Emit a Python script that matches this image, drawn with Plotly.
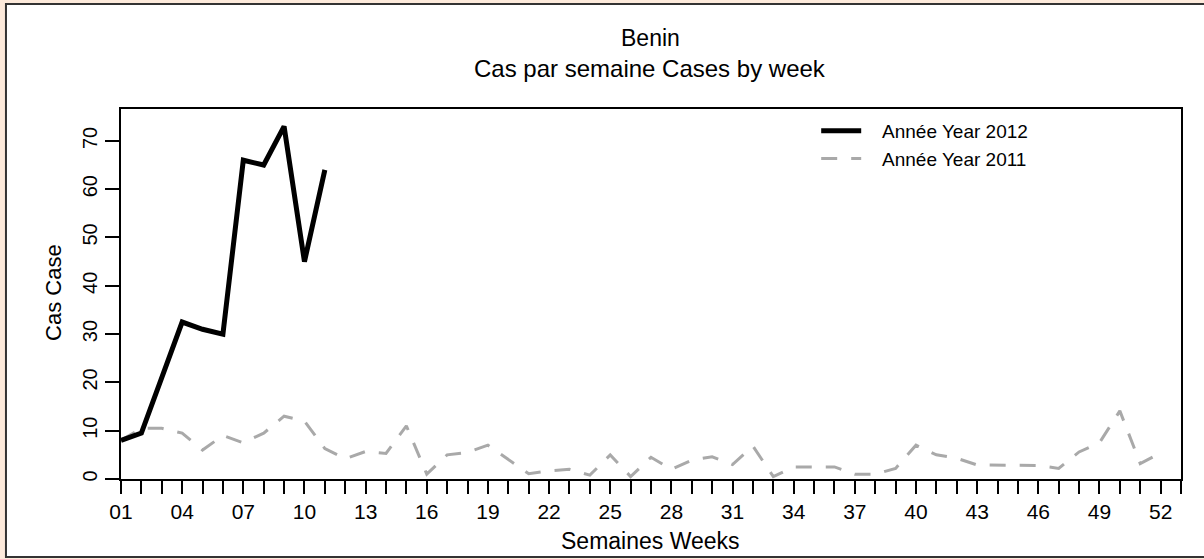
import plotly.graph_objects as go

# Data
weeks_2012 = list(range(1, 12))
cases_2012 = [8, 9.5, 21, 32.5, 31, 30, 66, 65, 73, 45, 64]

weeks_2011 = list(range(1, 53))
cases_2011 = [8, 10.5, 10.5, 9.5, 6, 9, 7.5, 9.5, 13, 12,
              6.3, 4.2, 5.7, 5.3, 11, 1, 5, 5.5, 7, 4,
              1.1, 1.7, 2, 0.8, 5, 0.5, 4.5, 2, 3.9, 4.6,
              3, 6.8, 0.5, 2.5, 2.5, 2.5, 1, 1, 2.2, 7,
              5, 4.3, 2.9, 2.9, 2.9, 2.8, 2.2, 5.6, 7.5, 14.1,
              3.2, 5.4]

x_tickvals = list(range(1, 54))
x_ticktext = [f"{w:02d}" if (w - 1) % 3 == 0 and w <= 52 else "" for w in x_tickvals]
y_tickvals = [0, 10, 20, 30, 40, 50, 60, 70]

title_main = "Benin"
title_sub = "Cas par semaine Cases by week"
x_title = "Semaines Weeks"
y_title = "Cas Case"
name_2012 = "\u00a0\u00a0\u00a0Année Year 2012"
name_2011 = "\u00a0\u00a0\u00a0Année Year 2011"

FONT = "Liberation Sans, Arial, sans-serif"

# Plot area geometry (pixels)
W, H = 1204, 559
L, R_EDGE, T, B_EDGE = 121, 1180.7, 109, 479
pw = R_EDGE - L
ph = B_EDGE - T

def px2x(px):
    return (px - L) / pw

def py2y(py):
    return (B_EDGE - py) / ph

fig = go.Figure()
fig.add_trace(go.Scatter(
    x=weeks_2011, y=cases_2011, mode="lines", name=name_2011,
    line=dict(color="#a9a9a9", width=3, dash="16px,14px"),
))
fig.add_trace(go.Scatter(
    x=weeks_2012, y=cases_2012, mode="lines", name=name_2012,
    line=dict(color="#000000", width=5),
))

fig.update_layout(
    width=W, height=H,
    margin=dict(l=L, r=W - R_EDGE, t=T, b=H - B_EDGE, pad=0),
    paper_bgcolor="#fdeadb",
    plot_bgcolor="rgba(0,0,0,0)",
    font=dict(family=FONT, size=16, color="#000000"),
    showlegend=True,
    legend=dict(
        x=px2x(816), y=py2y(112), xanchor="left", yanchor="top",
        bgcolor="rgba(0,0,0,0)", traceorder="reversed",
        font=dict(family=FONT, size=19, color="#000000"),
        itemwidth=40, tracegroupgap=0,
    ),
    shapes=[
        dict(type="rect", xref="paper", yref="paper",
             x0=px2x(6), x1=px2x(1215), y0=py2y(557), y1=py2y(4),
             fillcolor="#ffffff", line=dict(color="#333333", width=2),
             layer="below"),
    ],
    annotations=[
        dict(text=title_main, xref="paper", yref="paper",
             x=px2x(650), y=py2y(38), showarrow=False,
             xanchor="center", yanchor="middle",
             font=dict(family=FONT, size=23)),
        dict(text=title_sub, xref="paper", yref="paper",
             x=px2x(650), y=py2y(68), showarrow=False,
             xanchor="center", yanchor="middle",
             font=dict(family=FONT, size=24)),
        dict(text=x_title, xref="paper", yref="paper",
             x=px2x(650), y=py2y(541), showarrow=False,
             xanchor="center", yanchor="middle",
             font=dict(family=FONT, size=23)),
        dict(text=y_title, xref="paper", yref="paper",
             x=px2x(53), y=py2y(292), showarrow=False,
             xanchor="center", yanchor="middle", textangle=-90,
             font=dict(family=FONT, size=22)),
    ],
)

fig.update_xaxes(
    range=[1, 53], tickmode="array", tickvals=x_tickvals, ticktext=x_ticktext,
    ticks="outside", ticklen=13, tickwidth=2, tickcolor="#000000",
    showline=True, linecolor="#000000", linewidth=2, mirror=True,
    showgrid=False, zeroline=False,
    tickfont=dict(family=FONT, size=21, color="#000000"),
)
fig.update_yaxes(
    range=[0, 76.6], tickmode="array", tickvals=y_tickvals,
    ticks="outside", ticklen=14, tickwidth=2, tickcolor="#000000",
    tickangle=-90,
    showline=True, linecolor="#000000", linewidth=2, mirror=True,
    showgrid=False, zeroline=False,
    tickfont=dict(family=FONT, size=20, color="#000000"),
)

fig.write_html(
    "out.html",
    config={"displayModeBar": False},
    post_script="document.body.style.margin='0px';document.body.style.background='#fdeadb';",
)
